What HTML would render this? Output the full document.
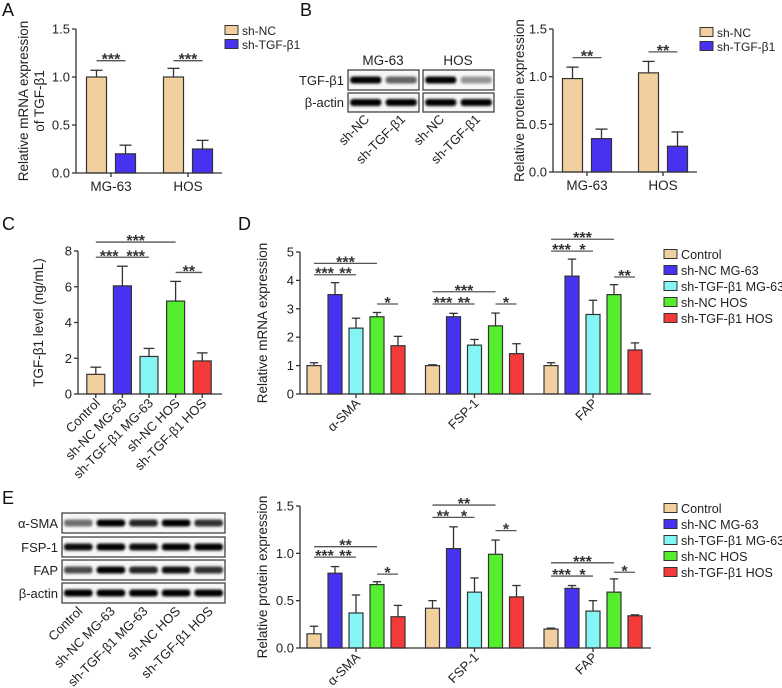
<!DOCTYPE html>
<html><head><meta charset="utf-8">
<style>
html,body{margin:0;padding:0;background:#fff;}
svg{display:block;font-family:"Liberation Sans",Arial,sans-serif;}
</style></head>
<body>
<svg id="fig" width="782" height="688" viewBox="0 0 782 688" xmlns="http://www.w3.org/2000/svg">
<defs><filter id="blur" x="-20%" y="-50%" width="140%" height="200%"><feGaussianBlur stdDeviation="1.3"/></filter></defs>
<g id="root"></g>
</svg>
<script>
// ---------- DATA ----------
const colorsAB = ["#f2cf9f", "#4632f0"];
const colors5 = ["#f2cf9f", "#4632f0", "#84f5f5", "#55ee2e", "#f53a3a"];
const legendAB = ["sh-NC", "sh-TGF-β1"];
const legend5 = ["Control", "sh-NC MG-63", "sh-TGF-β1 MG-63", "sh-NC HOS", "sh-TGF-β1 HOS"];

const catsAB = ["MG-63", "HOS"];
const aValues = [[1.0, 0.2], [1.0, 0.25]];
const aErrors = [[0.07, 0.09], [0.09, 0.09]];
const aTicks = [0, 0.5, 1.0, 1.5];

const bValues = [[0.98, 0.35], [1.04, 0.27]];
const bErrors = [[0.12, 0.10], [0.12, 0.15]];
const bTicks = [0, 0.5, 1.0, 1.5];

const cCats = ["Control", "sh-NC MG-63", "sh-TGF-β1 MG-63", "sh-NC HOS", "sh-TGF-β1 HOS"];
const cValues = [[1.1, 6.05, 2.1, 5.2, 1.85]];
const cErrors = [[0.4, 1.1, 0.45, 1.1, 0.45]];
const cTicks = [0, 2, 4, 6, 8];

const dCats = ["α-SMA", "FSP-1", "FAP"];
const dValues = [[1.0, 3.5, 2.32, 2.72, 1.7], [1.0, 2.72, 1.72, 2.4, 1.42], [1.0, 4.15, 2.8, 3.5, 1.55]];
const dErrors = [[0.1, 0.42, 0.35, 0.15, 0.33], [0.03, 0.12, 0.2, 0.45, 0.35], [0.1, 0.6, 0.5, 0.35, 0.25]];
const dTicks = [0, 1, 2, 3, 4, 5];

const eValues = [[0.15, 0.79, 0.37, 0.67, 0.33], [0.42, 1.05, 0.59, 0.99, 0.54], [0.2, 0.63, 0.39, 0.59, 0.34]];
const eErrors = [[0.08, 0.07, 0.19, 0.03, 0.12], [0.08, 0.23, 0.15, 0.15, 0.12], [0.01, 0.03, 0.11, 0.14, 0.01]];
const eTicks = [0, 0.5, 1.0, 1.5];

// significance: [group, barFrom, barTo, level(data units), label]
const aSig = [[0, 0, 1, 1.17, "***"], [1, 0, 1, 1.17, "***"]];
const bSig = [[0, 0, 1, 1.20, "**"], [1, 0, 1, 1.26, "**"]];
const cSig = [[0, 0, 3, 8.5, "***"], [0, 0, 1, 7.65, "***"], [0, 1, 2, 7.65, "***"], [0, 3, 4, 6.8, "**"]];
const dSig = [[0,0,3,4.6,"***"],[0,0,1,4.2,"***"],[0,1,2,4.2,"**"],[0,3,4,3.17,"*"],
              [1,0,3,3.6,"***"],[1,0,1,3.17,"***"],[1,1,2,3.17,"**"],[1,3,4,3.17,"*"],
              [2,0,3,5.45,"***"],[2,0,1,5.03,"***"],[2,1,2,5.03,"*"],[2,3,4,4.12,"**"]];
const eSig = [[0,0,3,1.07,"**"],[0,0,1,0.96,"***"],[0,1,2,0.96,"**"],[0,3,4,0.78,"*"],
              [1,0,3,1.51,"**"],[1,0,1,1.38,"**"],[1,1,2,1.38,"*"],[1,3,4,1.24,"*"],
              [2,0,3,0.9,"***"],[2,0,1,0.76,"***"],[2,1,2,0.76,"*"],[2,3,4,0.8,"*"]];

// ---------- DRAW ----------
const NS = "http://www.w3.org/2000/svg";
const root = document.getElementById("root");
function el(tag, attrs, parent, text) {
  const e = document.createElementNS(NS, tag);
  for (const k in attrs) e.setAttribute(k, attrs[k]);
  if (text !== undefined) e.textContent = text;
  (parent || root).appendChild(e);
  return e;
}

function chart(o) {
  const g = el("g", {});
  
  
  const yMax = o.ticks[o.ticks.length - 1];
  const Y = v => o.y0 - (v / yMax) * (o.y0 - o.yTop);
  const n = o.values[0].length;
  const BX = (gi, bi) => o.centers[gi] + (bi - (n - 1) / 2) * o.spacing;
  o.values.forEach((grp, gi) => grp.forEach((v, bi) => {
    const cx = BX(gi, bi), top = Y(v), et = Y(v + o.errors[gi][bi]);
    const ln = el("line", {x1: cx, x2: cx, y1: top, y2: et, stroke: "#333", "stroke-width": 1.3}, g);
    
    
    el("line", {x1: cx - o.bw * 0.3, x2: cx + o.bw * 0.3, y1: et, y2: et, stroke: "#333", "stroke-width": 1.3}, g);
    const r = el("rect", {x: cx - o.bw / 2, y: top, width: o.bw, height: o.y0 - top, fill: o.colors[bi], stroke: "#333", "stroke-width": 1.2}, g);
    
    
  }));
  const ya = el("line", {x1: o.x0, x2: o.x0, y1: o.yTop, y2: o.y0, stroke: "#333", "stroke-width": 1.3}, g);
  
  
  const xa = el("line", {x1: o.x0, x2: o.xEnd, y1: o.y0, y2: o.y0, stroke: "#333", "stroke-width": 1.3}, g);
  
  
  o.ticks.forEach(t => {
    el("line", {x1: o.x0 - 4, x2: o.x0, y1: Y(t), y2: Y(t), stroke: "#333", "stroke-width": 1.3}, g);
    const tl = el("text", {x: o.x0 - 6, y: Y(t) + 4.5, "font-size": 13, "text-anchor": "end", fill: "#222"}, g, o.tickFmt(t));
    
    
  });
  const yt = el("text", {x: 0, y: 0, "font-size": 13.5, "text-anchor": "middle", fill: "#222", transform: `translate(${o.ytX},${(o.y0 + o.yTop) / 2}) rotate(-90)`}, g);
  
  
  o.ytitle.forEach((line, i) => el("tspan", {x: 0, dy: i === 0 ? (o.ytitle.length > 1 ? -2 : 0) : 16}, yt, line));
  o.cats.forEach((c, ci) => {
    const cx = o.catX(ci);
    if (o.tickX) el("line", {x1: cx, x2: cx, y1: o.y0, y2: o.y0 + 4, stroke: "#333", "stroke-width": 1.3}, g);
    let t;
    if (o.rotate) t = el("text", {x: 0, y: 0, "font-size": 13, "text-anchor": "end", fill: "#222", transform: `translate(${cx + 5},${o.y0 + 10}) rotate(-45)`}, g, c);
    else t = el("text", {x: cx, y: o.y0 + 18, "font-size": 13.5, "text-anchor": "middle", fill: "#222"}, g, c);
    
    
  });
  o.sig.forEach(s => {
    const x1 = BX(s[0], s[1]), x2 = BX(s[0], s[2]), y = Y(s[3]);
    const l = el("line", {x1: x1, x2: x2, y1: y, y2: y, stroke: "#555", "stroke-width": 1.3}, g);
    
    
    const st = el("text", {x: (x1 + x2) / 2, y: y + 4, "font-size": 16, "font-weight": "bold", "text-anchor": "middle", fill: "#333"}, g, s[4]);
    
    
  });
  o.legend.forEach((lab, i) => {
    const y = o.legY + i * o.legDy;
    const sw = el("rect", {x: o.legX, y: y - 4.5, width: 13, height: 9, fill: o.colors[i], stroke: "#333", "stroke-width": 1}, g);
    
    
    const lt = el("text", {x: o.legX + 17, y: y + 5, "font-size": o.legFs, fill: "#222"}, g, lab);
    
    
  });
}
const f1 = t => t.toFixed(1), f0 = t => String(t);

chart({name: "chart-a", x0: 76, xEnd: 222, y0: 173, yTop: 29, ticks: aTicks, tickFmt: f1, values: aValues, errors: aErrors,
  centers: [111, 188], spacing: 29, bw: 20, colors: colorsAB, cats: catsAB, catX: i => [111, 188][i], tickX: true, rotate: false,
  ytitle: ["Relative mRNA expression", "of TGF-β1"], ytX: 30, sig: aSig, legend: legendAB, legX: 225, legY: 30, legDy: 14, legFs: 12});
chart({name: "chart-b", x0: 553, xEnd: 697, y0: 172, yTop: 29, ticks: bTicks, tickFmt: f1, values: bValues, errors: bErrors,
  centers: [587, 663], spacing: 29, bw: 20, colors: colorsAB, cats: catsAB, catX: i => [587, 663][i], tickX: true, rotate: false,
  ytitle: ["Relative protein expression"], ytX: 524, sig: bSig, legend: legendAB, legX: 700, legY: 32, legDy: 14, legFs: 12});
chart({name: "chart-c", x0: 78, xEnd: 222, y0: 394, yTop: 251, ticks: cTicks, tickFmt: f0, values: cValues, errors: cErrors,
  centers: [149], spacing: 26.6, bw: 18, colors: colors5, cats: cCats, catX: i => 149 + (i - 2) * 26.6, tickX: true, rotate: true,
  ytitle: ["TGF-β1 level (ng/mL)"], ytX: 43, sig: cSig, legend: [], legX: 0, legY: 0, legDy: 0, legFs: 12});
chart({name: "chart-d", x0: 300, xEnd: 651, y0: 394, yTop: 252, ticks: dTicks, tickFmt: f0, values: dValues, errors: dErrors,
  centers: [356, 474.5, 593], spacing: 21, bw: 14, colors: colors5, cats: dCats, catX: i => [356, 474.5, 593][i], tickX: true, rotate: true,
  ytitle: ["Relative mRNA expression"], ytX: 267, sig: dSig, legend: legend5, legX: 664, legY: 254, legDy: 16, legFs: 12.6});
chart({name: "chart-e", x0: 300, xEnd: 651, y0: 648, yTop: 506, ticks: eTicks, tickFmt: f1, values: eValues, errors: eErrors,
  centers: [356, 474.5, 593], spacing: 21, bw: 14, colors: colors5, cats: dCats, catX: i => [356, 474.5, 593][i], tickX: true, rotate: true,
  ytitle: ["Relative protein expression"], ytX: 267, sig: eSig, legend: legend5, legX: 664, legY: 508, legDy: 16, legFs: 12.6});

[["A", 2, 16], ["B", 300, 16], ["C", 2, 230], ["D", 238, 230], ["E", 2, 504]].forEach(p => {
  const t = el("text", {x: p[1], y: p[2], "font-size": 18, fill: "#111"}, root, p[0]);
  
  
});

function blot(name, x, y, w, h, lanes, intens) {
  const g = el("g", {});
  
  
  el("rect", {x: x, y: y, width: w, height: h, fill: "#f7f7f7", stroke: "#444", "stroke-width": 1.3}, g);
  const lw = w / lanes;
  intens.forEach((a, i) => {
    const b = el("rect", {x: x + i * lw + lw * 0.06, y: y + h / 2 - 3.5, width: lw * 0.88, height: 7, rx: 3, fill: "#000", opacity: a, filter: "url(#blur)"}, g);
    
    
  });
}
function lbl(txt, x, y, anchor, fs) {
  const t = el("text", {x: x, y: y, "font-size": fs || 13, "text-anchor": anchor || "end", fill: "#222"}, root, txt);
  
  
}
blot("blot-b-tgf-mg63", 348, 70, 71, 20, 2, [1, 0.6]);
blot("blot-b-tgf-hos", 423, 70, 71, 20, 2, [1, 0.4]);
blot("blot-b-actin-mg63", 348, 93, 71, 19, 2, [1, 1]);
blot("blot-b-actin-hos", 423, 93, 71, 19, 2, [1, 1]);
lbl("TGF-β1", 344, 85); lbl("β-actin", 344, 107);
lbl("MG-63", 383, 65, "middle", 13.5); lbl("HOS", 458, 65, "middle", 13.5);
[[366, "sh-NC"], [402, "sh-TGF-β1"], [441, "sh-NC"], [477, "sh-TGF-β1"]].forEach(p => {
  const t = el("text", {x: 0, y: 0, "font-size": 13, "text-anchor": "end", fill: "#222", transform: `translate(${p[0] + 4},${120}) rotate(-45)`}, root, p[1]);
  
  
});
blot("blot-e-asma", 62, 513, 163, 20, 5, [0.55, 1, 0.85, 1, 0.8]);
blot("blot-e-fsp1", 62, 537, 163, 20, 5, [0.95, 1, 0.95, 1, 1]);
blot("blot-e-fap", 62, 560, 163, 20, 5, [0.7, 1, 0.85, 0.95, 0.8]);
blot("blot-e-actin", 62, 583, 163, 20, 5, [1, 1, 1, 1, 1]);
lbl("α-SMA", 58, 528); lbl("FSP-1", 58, 552); lbl("FAP", 58, 575); lbl("β-actin", 58, 598);
cCats.forEach((c, i) => {
  const t = el("text", {x: 0, y: 0, "font-size": 13, "text-anchor": "end", fill: "#222", transform: `translate(${62 + 163 / 5 * (i + 0.5) + 5},${612}) rotate(-45)`}, root, c);
  
  
});
</script>
</body></html>
